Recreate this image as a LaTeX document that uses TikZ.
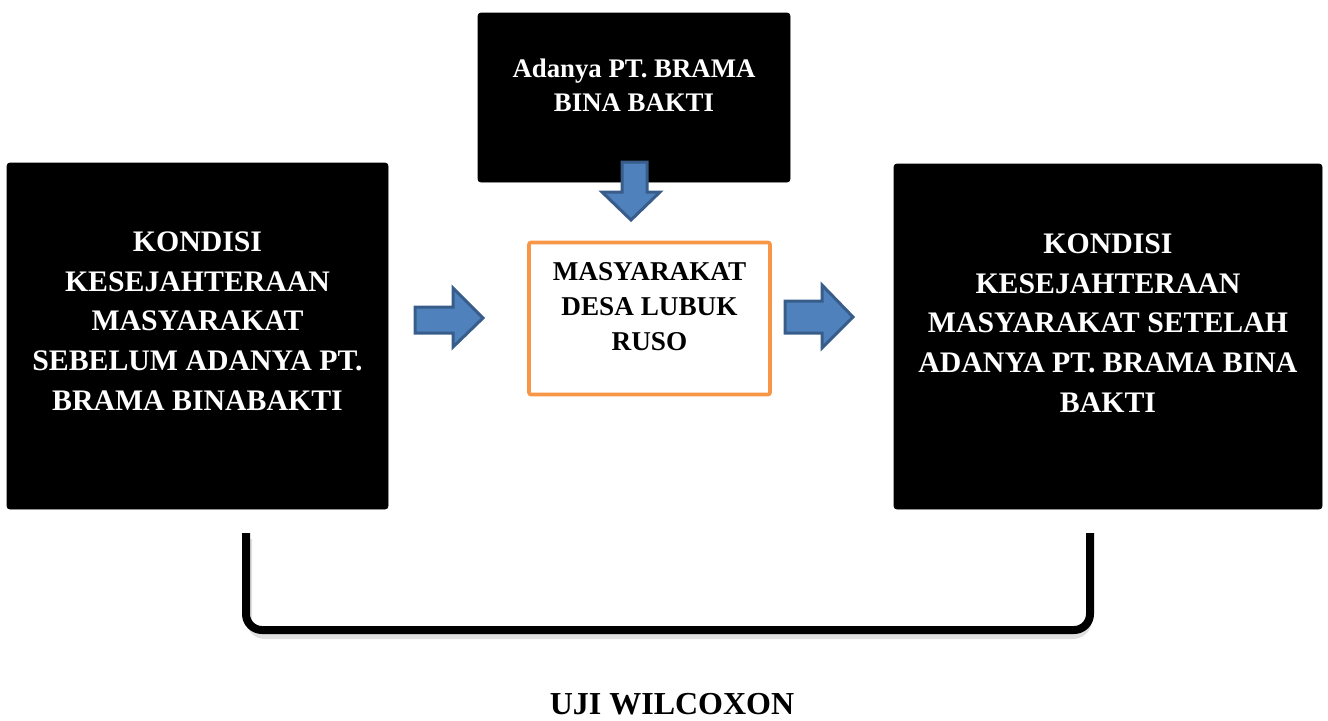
\documentclass[tikz,border=0pt]{standalone}
\usepackage{fontspec}
\setmainfont{Liberation Serif}
\definecolor{arrowfill}{HTML}{4F81BD}
\definecolor{arrowline}{HTML}{385D8A}
\definecolor{boxorange}{HTML}{F79646}
\begin{document}
\begin{tikzpicture}[x=0.5pt,y=-0.5pt,
  blackbox/.style={fill=black,draw=black,rounded corners=1.5pt,inner sep=0pt},
  boxtext/.style={text=white,font=\bfseries\fontsize{14.9}{19.8}\selectfont,align=center,inner sep=0pt},
  blockarrow/.style={fill=arrowfill,draw=arrowline,line width=1.5pt,line join=miter}]
\useasboundingbox (0,0) rectangle (1328,720);
% boxes
\node[blackbox,minimum width=190.5pt,minimum height=173pt] (left) at (197.5,336) {};
\node[boxtext] (lefttext) at (197.5,321) {KONDISI\\KESEJAHTERAAN\\MASYARAKAT\\SEBELUM ADANYA PT.\\BRAMA BINABAKTI};
\node[blackbox,minimum width=214pt,minimum height=172.5pt] (right) at (1108,336.5) {};
\node[boxtext] (righttext) at (1108,323) {KONDISI\\KESEJAHTERAAN\\MASYARAKAT SETELAH\\ADANYA PT. BRAMA BINA\\BAKTI};
\node[blackbox,minimum width=156pt,minimum height=84.5pt] (top) at (634,97.5) {};
\node[boxtext,font=\bfseries\fontsize{13.4}{17}\selectfont] (toptext) at (634,85) {Adanya PT. BRAMA\\BINA BAKTI};
\node[fill=white,draw=boxorange,line width=1.8pt,rounded corners=1pt,minimum width=120.5pt,minimum height=76pt] (mid) at (649.5,318.5) {};
\node[font=\bfseries\fontsize{13.6}{17.5}\selectfont,align=center,inner sep=0pt] (midtext) at (649.5,307) {MASYARAKAT\\DESA LUBUK\\RUSO};
% block arrows
\draw[blockarrow] (622,162) -- (647,162) -- (647,192) -- (660,192) -- (631,220) -- (602,192) -- (622,192) -- cycle;
\draw[blockarrow] (415,307) -- (453,307) -- (453,288) -- (483,318) -- (453,347) -- (453,333) -- (415,333) -- cycle;
\draw[blockarrow] (785,301) -- (822,301) -- (822,285) -- (853,317) -- (822,348) -- (822,333) -- (785,333) -- cycle;
% bracket
\coordinate (bl) at (246,533);
\coordinate (br) at (1090,533);
\draw[black!12,line width=3pt,rounded corners=8pt,line cap=butt] ([shift={(3,6)}]bl) -- ([shift={(3,4)}]bl |- 0,632) -- ([shift={(-1,4)}]br |- 0,632) -- ([shift={(-1,6)}]br);
\draw[black,line width=4pt,rounded corners=8pt,line cap=butt] (bl) -- (bl |- 0,630) -- (br |- 0,630) -- (br);
\node[font=\bfseries\fontsize{16}{20}\selectfont,inner sep=0pt] (uji) at (672,704) {UJI WILCOXON};
\end{tikzpicture}
\end{document}
